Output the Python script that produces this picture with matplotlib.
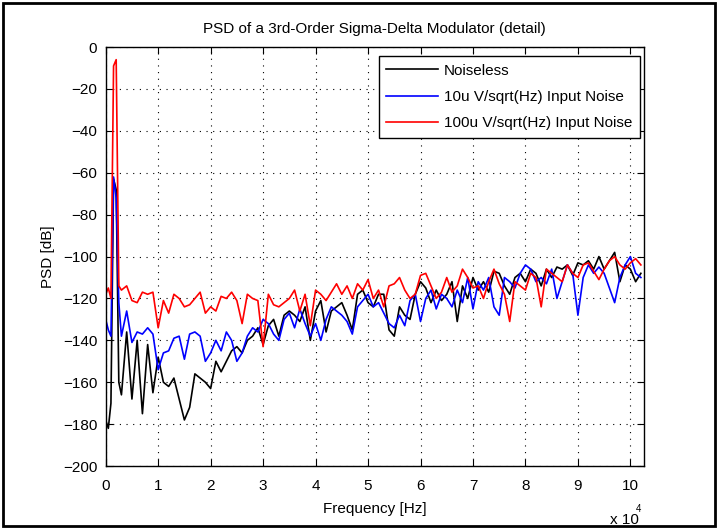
import numpy as np
import matplotlib
matplotlib.use("Agg")
import matplotlib.pyplot as plt
from matplotlib.patches import Rectangle

plt.rcParams['font.family'] = ['Liberation Sans', 'DejaVu Sans']

# frequency bins in kHz: finer around the test tone, then 1 kHz steps
freq_khz = np.concatenate([np.arange(0, 3, 0.5), np.arange(3, 103, 1.0)])

psd_noiseless = [
    -178, -182, -170, -63, -68, -160,
    -166, -136, -168, -140, -175, -142, -165, -148, -160, -162,
    -158, -168, -178, -172, -156, -158, -160, -163, -150, -155,
    -150, -145, -143, -146, -140, -138, -134, -142, -133, -130,
    -138, -128, -126, -128, -131, -124, -140, -126, -121, -136,
    -126, -124, -122, -128, -135, -118, -116, -122, -124, -118,
    -118, -135, -138, -124, -128, -130, -118, -112, -115, -122,
    -116, -121, -118, -112, -131, -114, -120, -110, -116, -112,
    -117, -107, -108, -114, -118, -110, -108, -112, -106, -108,
    -114, -106, -110, -105, -106, -104, -109, -103, -104, -102,
    -106, -100, -106, -102, -98, -112, -104, -106, -112, -108,
]

psd_10u = [
    -130, -135, -138, -62, -72, -122,
    -138, -126, -141, -136, -137, -134, -137, -154, -146, -145,
    -139, -138, -149, -137, -136, -138, -150, -146, -140, -145,
    -136, -140, -150, -146, -138, -134, -136, -130, -132, -137,
    -140, -130, -127, -134, -125, -132, -138, -132, -140, -130,
    -124, -126, -128, -131, -137, -124, -121, -118, -124, -122,
    -127, -132, -134, -128, -133, -121, -118, -131, -120, -116,
    -125, -118, -120, -124, -116, -122, -110, -125, -112, -116,
    -110, -124, -128, -110, -112, -115, -108, -104, -106, -112,
    -110, -113, -106, -120, -112, -104, -108, -128, -110, -104,
    -108, -105, -108, -115, -122, -110, -104, -100, -108, -110,
]

psd_100u = [
    -118, -115, -120, -9, -6, -114,
    -116, -114, -121, -122, -117, -118, -117, -134, -121, -127,
    -118, -120, -124, -123, -120, -117, -127, -124, -126, -119,
    -120, -117, -121, -132, -118, -120, -121, -143, -118, -123,
    -124, -122, -120, -116, -126, -118, -133, -116, -118, -121,
    -117, -113, -118, -114, -120, -113, -116, -111, -120, -116,
    -124, -114, -113, -110, -116, -120, -118, -109, -108, -114,
    -120, -117, -110, -117, -114, -106, -110, -115, -114, -120,
    -112, -106, -113, -118, -131, -112, -114, -116, -108, -110,
    -124, -106, -108, -110, -112, -104, -108, -110, -104, -103,
    -107, -111, -106, -102, -100, -104, -106, -103, -101, -104,
]

series = [
    ('Noiseless', psd_noiseless, '#000000'),
    ('10u V/sqrt(Hz) Input Noise', psd_10u, '#0000ff'),
    ('100u V/sqrt(Hz) Input Noise', psd_100u, '#ff0000'),
]

fs = 11

fig = plt.figure(figsize=(7.19, 5.29), dpi=100)
ax = fig.add_axes([0.147, 0.119, 0.748, 0.792])

f_hz = freq_khz * 1000
for name, vals, col in series:
    ax.plot(f_hz, vals, color=col, lw=1.2, label=name)

ax.set_xlim(0, 102500)
ax.set_ylim(-200, 0)
ax.set_xticks(np.arange(0, 110000, 10000))
ax.set_xticklabels([str(i) for i in range(11)])
ax.set_yticks(np.arange(-200, 1, 20))
ax.tick_params(direction='in', top=True, right=True, length=5,
               labelsize=fs, width=0.8, pad=9)
ax.tick_params(axis='y', pad=6)
ax.grid(True, color='black', linestyle=(0, (1, 5)), linewidth=0.8)
for sp in ax.spines.values():
    sp.set_linewidth(1.0)

ax.set_title('PSD of a 3rd-Order Sigma-Delta Modulator (detail)',
             fontsize=fs, pad=10)
ax.set_xlabel('Frequency [Hz]', fontsize=fs, labelpad=7)
ax.set_ylabel('PSD [dB]', fontsize=fs, labelpad=6)
fig.text(0.848, 0.010, r'x 10', fontsize=fs)
fig.text(0.884, 0.032, '4', fontsize=7)

leg = ax.legend(loc='upper right', bbox_to_anchor=(0.9926, 0.9785),
                borderaxespad=0, fancybox=False, edgecolor='black',
                framealpha=1, fontsize=fs, handlelength=3.4,
                borderpad=0.5, labelspacing=0.8, handletextpad=0.35)
leg.get_frame().set_linewidth(1.0)

# outer frame around the whole figure
fig.patches.append(Rectangle((0.004, 0.005), 0.99, 0.99, transform=fig.transFigure,
                             fill=False, edgecolor='black', lw=2))

fig.savefig('out.png', dpi=100)
